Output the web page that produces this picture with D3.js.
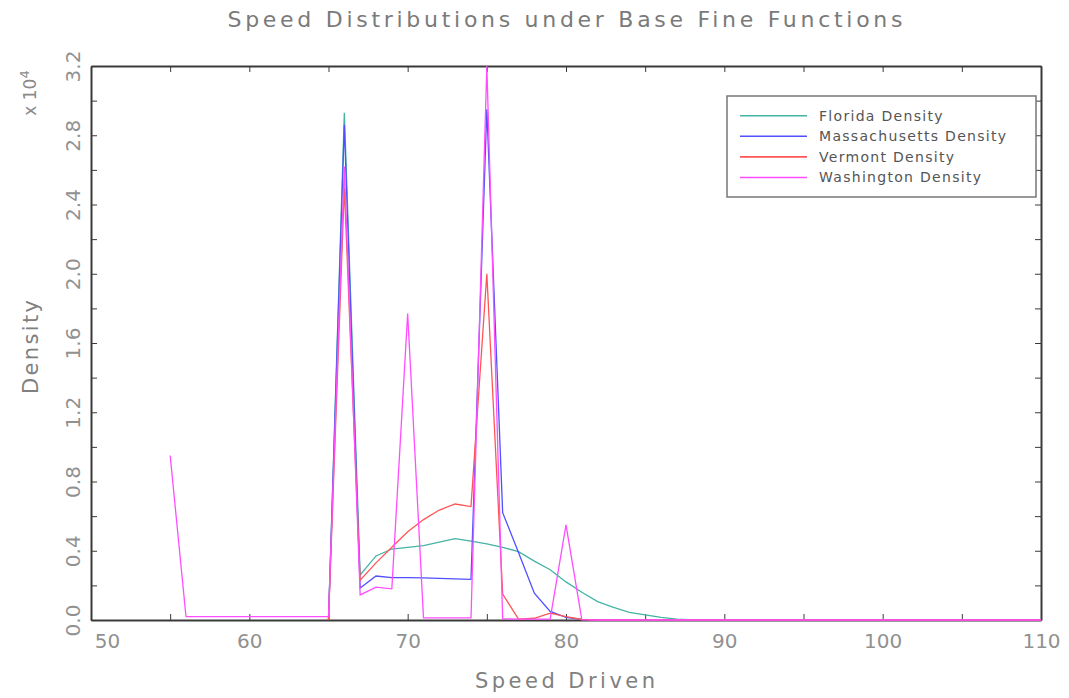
<!DOCTYPE html>
<html>
<head>
<meta charset="utf-8">
<script src="https://cdn.jsdelivr.net/npm/d3@7"></script>
<style>
  body { margin: 0; background: #fff; }
  text { font-family: 'DejaVu Sans', sans-serif; }
</style>
</head>
<body>
<div id="chart"></div>
<script>
// speed (mph) vs density (x 10^4)
const florida = [[65, 0], [66, 2.93], [67, 0.26], [68, 0.37], [69, 0.41], [70, 0.42], [71, 0.43],
  [72, 0.45], [73, 0.47], [74, 0.455], [75, 0.44], [76, 0.42], [77, 0.395], [78, 0.34], [79, 0.29],
  [80, 0.22], [81, 0.16], [82, 0.106], [83, 0.073], [84, 0.044], [85, 0.029], [86, 0.015], [87, 0.005],
  [88, 0], [110, 0]];
const massachusetts = [[65, 0], [66, 2.86], [67, 0.185], [68, 0.254], [69, 0.245], [70, 0.245],
  [71, 0.243], [72, 0.24], [73, 0.238], [74, 0.235], [75, 2.95], [76, 0.62], [77, 0.39], [78, 0.155],
  [79, 0.05], [80, 0.015], [81, 0.003], [82, 0], [110, 0]];
const vermont = [[65, 0], [66, 2.5], [67, 0.23], [68, 0.33], [69, 0.42], [70, 0.51], [71, 0.58],
  [72, 0.635], [73, 0.67], [74, 0.655], [75, 2.0], [76, 0.15], [77, 0.005], [78, 0.01], [79, 0.04],
  [80, 0.02], [81, 0.003], [82, 0], [110, 0]];
const washington = [[55, 0.95], [56, 0.02], [57, 0.02], [58, 0.02], [59, 0.02], [60, 0.02], [61, 0.02],
  [62, 0.02], [63, 0.02], [64, 0.02], [65, 0.02], [66, 2.62], [67, 0.145], [68, 0.19], [69, 0.18],
  [70, 1.77], [71, 0.012], [72, 0.012], [73, 0.012], [74, 0.012], [75, 3.2], [76, 0.008], [77, 0.005],
  [78, 0.005], [79, 0.005], [80, 0.55], [81, 0.002], [82, 0], [110, 0]];

const seriesNames = ['Florida Density', 'Massachusetts Density', 'Vermont Density', 'Washington Density'];
const seriesColors = ['#45b3a5', '#5050ff', '#ff5555', '#ff4dff'];
const seriesData = [florida, massachusetts, vermont, washington];

const xTicks = d3.range(50, 111, 5);
const yTicks = d3.range(0, 3.21, 0.2);

const W = 1069, H = 698;
const margin = { top: 66, right: 28, bottom: 78, left: 91 };
const width = W - margin.left - margin.right;
const height = H - margin.top - margin.bottom;

const svg = d3.select('#chart').append('svg')
  .attr('width', W)
  .attr('height', H);

const chart = svg.append('g')
  .attr('transform', `translate(${margin.left},${margin.top})`);

const xScale = d3.scaleLinear().domain([50, 110]).range([0, width]);
const yScale = d3.scaleLinear().domain([0, 3.2]).range([height, 0]);

// title
svg.append('text')
  .attr('x', 565)
  .attr('y', 27)
  .attr('text-anchor', 'middle')
  .attr('textLength', 675)
  .attr('lengthAdjust', 'spacing')
  .style('font-size', '22px')
  .style('fill', '#7a7a7a')
  .text('Speed Distributions under Base Fine Functions');

// axes
const fmtX = d => d % 10 === 0 ? d : '';
const fmtY = d => Math.abs(Math.round(d * 10) % 4) === 0 ? d3.format('.1f')(d) : '';

const xAxis = chart.append('g')
  .attr('class', 'x axis')
  .attr('transform', `translate(0,${height})`)
  .call(d3.axisBottom(xScale).tickValues(xTicks).tickSize(-6).tickSizeOuter(0).tickPadding(14).tickFormat(fmtX));

chart.append('g')
  .attr('class', 'x axis')
  .call(d3.axisTop(xScale).tickValues(xTicks).tickSize(-6).tickSizeOuter(0).tickFormat(''));

const yAxis = chart.append('g')
  .attr('class', 'y axis')
  .call(d3.axisLeft(yScale).tickValues(yTicks).tickSize(-6).tickSizeOuter(0).tickFormat(fmtY));

chart.append('g')
  .attr('class', 'y axis')
  .attr('transform', `translate(${width},0)`)
  .call(d3.axisRight(yScale).tickValues(yTicks).tickSize(-6).tickSizeOuter(0).tickFormat(''));

chart.selectAll('.axis path').attr('stroke', '#3a3a3a').attr('stroke-width', 2);
chart.selectAll('.axis line').attr('stroke', '#3a3a3a');
chart.selectAll('.axis text').style('font-family', "'DejaVu Sans', sans-serif")
  .style('font-size', '20px').style('fill', '#919191');

xAxis.selectAll('text').attr('dy', '0.71em');
// first label sits right of its tick, clear of the y labels
xAxis.selectAll('.tick').filter(d => d === 50).select('text').attr('x', 16);

yAxis.selectAll('text')
  .attr('x', null).attr('dy', null)
  .attr('text-anchor', 'middle')
  .attr('transform', 'translate(-11,0) rotate(-90)');

// lines, drawn over the frame so the zero runs tint the baseline
chart.append('clipPath').attr('id', 'plotclip')
  .append('rect').attr('x', 0).attr('y', -2).attr('width', width).attr('height', height + 3);

const line = d3.line()
  .x(d => xScale(d[0]))
  .y(d => yScale(d[1]));

chart.append('g').attr('clip-path', 'url(#plotclip)')
  .selectAll('path')
  .data(seriesData)
  .enter().append('path')
  .attr('d', line)
  .attr('fill', 'none')
  .attr('stroke', (d, i) => seriesColors[i])
  .attr('stroke-width', 1.3);

// axis labels
svg.append('text')
  .attr('x', 565)
  .attr('y', 688)
  .attr('text-anchor', 'middle')
  .attr('textLength', 180)
  .attr('lengthAdjust', 'spacing')
  .style('font-size', '21px')
  .style('fill', '#808080')
  .text('Speed Driven');

svg.append('text')
  .attr('transform', 'translate(38,347) rotate(-90)')
  .attr('text-anchor', 'middle')
  .attr('textLength', 94)
  .attr('lengthAdjust', 'spacing')
  .style('font-size', '21px')
  .style('fill', '#808080')
  .text('Density');

const expo = svg.append('text')
  .attr('transform', 'translate(36,93) rotate(-90)')
  .attr('text-anchor', 'middle')
  .style('font-size', '17px')
  .style('fill', '#8a8a8a');
expo.append('tspan').text('x 10');
expo.append('tspan').attr('dy', '-0.55em').style('font-size', '13px').text('4');

// legend
const legend = svg.append('g').attr('transform', 'translate(727,96)');
legend.append('rect')
  .attr('width', 309).attr('height', 101)
  .attr('fill', '#fff')
  .attr('stroke', '#777').attr('stroke-width', 1.5);

const items = legend.selectAll('.item')
  .data(seriesNames)
  .enter().append('g')
  .attr('class', 'item')
  .attr('transform', (d, i) => `translate(0,${19.7 + i * 20.6})`);

items.append('line')
  .attr('x1', 13).attr('x2', 80)
  .attr('stroke', (d, i) => seriesColors[i])
  .attr('stroke-width', 1.6);

items.append('text')
  .attr('x', 92)
  .attr('dy', '0.35em')
  .style('font-size', '14px')
  .style('letter-spacing', '1.3px')
  .style('fill', '#555')
  .text(d => d);
</script>
</body>
</html>
